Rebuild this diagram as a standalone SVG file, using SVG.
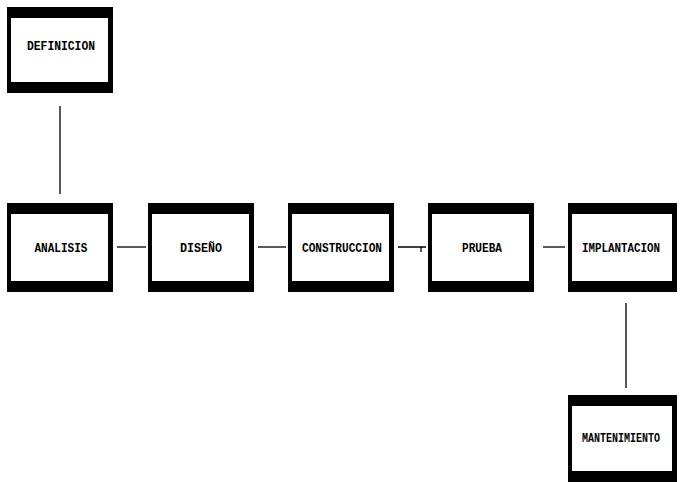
<svg xmlns="http://www.w3.org/2000/svg" width="680" height="482" viewBox="0 0 680 482">
  <style>
    .frame { fill: #000; }
    .face { fill: #fff; }
    .label { font-family: "Liberation Mono", "DejaVu Sans Mono", monospace; font-size: 12.5px; font-weight: bold; fill: #000; text-anchor: middle; }
    .link { stroke: #000; stroke-width: 1.3; fill: none; }
  </style>
  <rect width="680" height="482" fill="#fff"/>

  <!-- connectors -->
  <g id="connectors">
    <line class="link" x1="60" y1="106" x2="60" y2="194"/>
    <line class="link" x1="117" y1="247" x2="146" y2="247"/>
    <line class="link" x1="258" y1="247" x2="286" y2="247"/>
    <path class="link" d="M398 247 H426 M421 247 V252"/>
    <line class="link" x1="543" y1="247" x2="565" y2="247"/>
    <line class="link" x1="626" y1="303" x2="626" y2="388"/>
  </g>

  <!-- process stages: black frame with heavy top and bottom bands -->
  <g id="definicion">
    <rect class="frame" x="7" y="7" width="106" height="86"/>
    <rect class="face" x="11" y="18" width="97" height="64"/>
    <text class="label" x="61" y="50" textLength="68" lengthAdjust="spacingAndGlyphs">DEFINICION</text>
  </g>
  <g id="analisis">
    <rect class="frame" x="7" y="203" width="106" height="89"/>
    <rect class="face" x="11" y="214" width="97" height="67"/>
    <text class="label" x="61" y="252" textLength="53" lengthAdjust="spacingAndGlyphs">ANALISIS</text>
  </g>
  <g id="diseno">
    <rect class="frame" x="148" y="203" width="106" height="89"/>
    <rect class="face" x="152" y="214" width="97" height="67"/>
    <text class="label" x="201" y="252" textLength="42" lengthAdjust="spacingAndGlyphs">DISEÑO</text>
  </g>
  <g id="construccion">
    <rect class="frame" x="288" y="203" width="106" height="89"/>
    <rect class="face" x="292" y="214" width="97" height="67"/>
    <text class="label" x="342" y="252" textLength="80" lengthAdjust="spacingAndGlyphs">CONSTRUCCION</text>
  </g>
  <g id="prueba">
    <rect class="frame" x="428" y="203" width="106" height="89"/>
    <rect class="face" x="432" y="214" width="97" height="67"/>
    <text class="label" x="482" y="252" textLength="40" lengthAdjust="spacingAndGlyphs">PRUEBA</text>
  </g>
  <g id="implantacion">
    <rect class="frame" x="568" y="203" width="109" height="89"/>
    <rect class="face" x="572" y="214" width="100" height="67"/>
    <text class="label" x="621" y="252" textLength="78" lengthAdjust="spacingAndGlyphs">IMPLANTACION</text>
  </g>
  <g id="mantenimiento">
    <rect class="frame" x="568" y="395" width="109" height="87"/>
    <rect class="face" x="572" y="406" width="100" height="65"/>
    <text class="label" x="621" y="442" textLength="78" lengthAdjust="spacingAndGlyphs">MANTENIMIENTO</text>
  </g>
</svg>
